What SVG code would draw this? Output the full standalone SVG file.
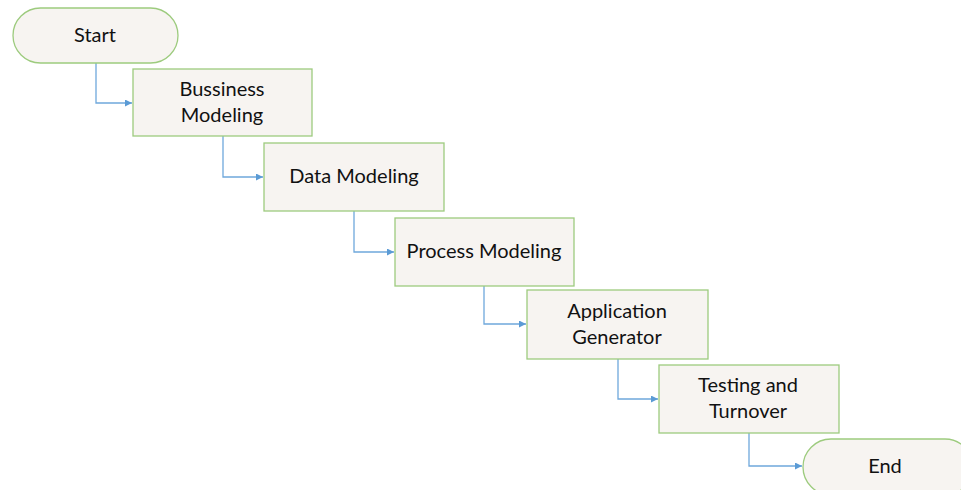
<svg xmlns="http://www.w3.org/2000/svg" width="961" height="490" viewBox="0 0 961 490">
<style>
.n{fill:#F7F4F1;stroke:#9DCB7E;stroke-width:1.3}
.t{font-family:Lato,"Open Sans",sans-serif;font-size:20px;fill:#111;text-anchor:middle}
.c{fill:none;stroke:#6FA8DC;stroke-width:1.3}
</style>
<defs>
<marker id="a" viewBox="0 0 10 10" refX="10" refY="5" markerWidth="7" markerHeight="7" markerUnits="userSpaceOnUse" orient="auto">
<path d="M0,0 L10,5 L0,10 z" fill="#5B9BD5"/>
</marker>
</defs>
<rect width="961" height="490" fill="#fff"/>
<g id="connectors">
<path class="c" d="M96,63 V103 H132" marker-end="url(#a)"/>
<path class="c" d="M223,136 V177 H263" marker-end="url(#a)"/>
<path class="c" d="M354,211 V252 H394" marker-end="url(#a)"/>
<path class="c" d="M484,286 V324 H526" marker-end="url(#a)"/>
<path class="c" d="M618,359 V399 H658" marker-end="url(#a)"/>
<path class="c" d="M749,433 V466 H802" marker-end="url(#a)"/>
</g>
<g id="start"><rect class="n" x="13" y="8" width="165" height="55" rx="27.5"/><text class="t" x="95" y="42">Start</text></g>
<g id="business"><rect class="n" x="133" y="69" width="179" height="67"/><text class="t" x="222" y="96">Bussiness</text><text class="t" x="222" y="122">Modeling</text></g>
<g id="data"><rect class="n" x="264" y="143" width="180" height="68"/><text class="t" x="354" y="183">Data Modeling</text></g>
<g id="process"><rect class="n" x="395" y="218" width="179" height="68"/><text class="t" x="484" y="258">Process Modeling</text></g>
<g id="application"><rect class="n" x="527" y="290" width="181" height="69"/><text class="t" x="617" y="318">Application</text><text class="t" x="617" y="344">Generator</text></g>
<g id="testing"><rect class="n" x="659" y="365" width="180" height="68"/><text class="t" x="748" y="392">Testing and</text><text class="t" x="748" y="418">Turnover</text></g>
<g id="end"><rect class="n" x="803" y="439" width="170" height="56" rx="28"/><text class="t" x="885" y="473">End</text></g>
</svg>
